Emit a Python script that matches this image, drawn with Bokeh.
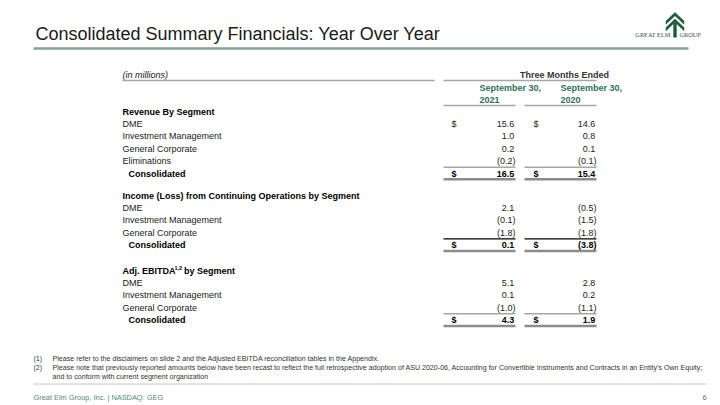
from bokeh.plotting import figure
from bokeh.models import Range1d, ColumnDataSource
from bokeh.core.properties import value
from bokeh.embed import file_html
from bokeh.resources import INLINE

# ---------------- data ----------------
title_text = "Consolidated Summary Financials: Year Over Year"
unit_label = "(in millions)"
period_header = "Three Months Ended"
period_dates = ["September 30,", "September 30,"]
period_years = ["2021", "2020"]

section_titles = ["Revenue By Segment",
                  "Income (Loss) from Continuing Operations by Segment",
                  "Adj. EBITDA"]
rev_segments = ["DME", "Investment Management", "General Corporate", "Eliminations"]
rev_2021 = [15.6, 1.0, 0.2, -0.2]
rev_2020 = [14.6, 0.8, 0.1, -0.1]
rev_total = [16.5, 15.4]

inc_segments = ["DME", "Investment Management", "General Corporate"]
inc_2021 = [2.1, -0.1, -1.8]
inc_2020 = [-0.5, -1.5, -1.8]
inc_total = [0.1, -3.8]

ebitda_segments = ["DME", "Investment Management", "General Corporate"]
ebitda_2021 = [5.1, 0.1, -1.0]
ebitda_2020 = [2.8, 0.2, -1.1]
ebitda_total = [4.3, 1.9]

total_label = "Consolidated"
footnotes = ["Please refer to the disclaimers on slide 2 and the Adjusted EBITDA reconciliation tables in the Appendix.",
             "Please note that previously reported amounts below have been recast to reflect the full retrospective adoption of ASU 2020-06, Accounting for Convertible Instruments and Contracts in an Entity\u2019s Own Equity;",
             "and to conform with current segment organization"]
footer_text = "Great Elm Group, Inc. | NASDAQ: GEG"
page_number = "6"

# ---------------- styles / layout ----------------
FONT = value("Liberation Sans")
SERIF = value("Liberation Serif")
GREEN = "#2E7059"
FOOT_GREEN = "#4F8A76"
GRAY_LINE = "#A6A6A6"
TXT = "#1a1a1a"

LABEL_X = 122
COL_L = [443, 524]
COL_R = [515, 596]
DOLLAR_X = [451, 533]
STEP = 12.4

p = figure(width=720, height=405, x_range=Range1d(0, 720), y_range=Range1d(405, 0),
           output_backend="svg", toolbar_location=None, min_border=0)
p.axis.visible = False
p.grid.visible = False
p.outline_line_color = None
p.background_fill_color = "white"
p.border_fill_color = "white"


def fmt(v):
    return f"{v:.1f}" if v >= 0 else f"({abs(v):.1f})"


def txt(x, y, t, size, color=TXT, align="left", style="normal", font=FONT, baseline="middle"):
    src = ColumnDataSource(dict(x=x, y=y, t=t))
    p.text("x", "y", "t", source=src, text_font=font, text_font_size=value(size),
           text_color=color, text_align=align, text_baseline=baseline, text_font_style=style)


def hline(x0, x1, y, color, w):
    src = ColumnDataSource(dict(x0=x0, x1=x1, y=y))
    p.segment("x0", "y", "x1", "y", source=src, line_color=color, line_width=w)


# title
txt([35], [33], [title_text], "18px")
hline([33], [688], [48], "#86A09A", 2.5)

# logo
cx = 674.5
xs, ys = [], []
for top in [12, 18.5]:
    w, h, t = 9, 8.5, 3.2
    xs.append([cx, cx + w, cx + w, cx, cx - w, cx - w])
    ys.append([top, top + h, top + h + t, top + t, top + h + t, top + h])
p.patches(xs, ys, fill_color="#1E5B3E", line_color="#1E5B3E", line_width=0.5)
p.quad(left=[672.8], right=[676.2], top=[22], bottom=[37], fill_color="#1E5B3E", line_color=None)
txt([670], [33.5], ["GREAT ELM"], "6.3px", color="#4a4a4a", align="right", font=SERIF)
txt([679], [33.5], ["GROUP"], "6.3px", color="#4a4a4a", align="left", font=SERIF)

# header
txt([LABEL_X], [74], [unit_label], "9px", style="italic")
hline([LABEL_X, COL_L[0]], [434, COL_R[1]], [80, 80], GRAY_LINE, 1.5)
txt([(COL_L[0] + COL_R[1]) / 2], [74], [period_header], "9px", color="#333333", style="bold")
cols_c = [(COL_L[i] + COL_R[i]) / 2 for i in range(2)]
txt(cols_c, [87, 87], period_dates, "9px", color=GREEN, style="bold")
txt(cols_c, [99.5, 99.5], period_years, "9px", color=GREEN, style="bold")
hline(COL_L, COL_R, [105, 105], GRAY_LINE, 1.5)

sections = [
    (section_titles[0], rev_segments, rev_2021, rev_2020, rev_total, 111, True, GRAY_LINE),
    (section_titles[1], inc_segments, inc_2021, inc_2020, inc_total, 195, False, "#000000"),
    (section_titles[2], ebitda_segments, ebitda_2021, ebitda_2020, ebitda_total, 270, False, GRAY_LINE),
]

for idx, (title, segs, v1, v2, tot, y0, dollar_first, above_color) in enumerate(sections):
    if idx == 2:
        # Adj. EBITDA with superscript
        txt([LABEL_X], [y0], [title], "9px", color="#000000", style="bold")
        txt([LABEL_X + 52], [y0 - 2.5], ["1,2"], "5.5px", color="#000000", style="bold")
        txt([LABEL_X + 61.5], [y0], ["by Segment"], "9px", color="#000000", style="bold")
    else:
        txt([LABEL_X], [y0], [title], "9px", color="#000000", style="bold")
    ys_rows = [y0 + STEP * (i + 1) for i in range(len(segs))]
    txt([LABEL_X] * len(segs), ys_rows, segs, "9px")
    for c, vals in enumerate([v1, v2]):
        xr = [COL_R[c] - (0 if v < 0 else 1.2) for v in vals]
        txt(xr, ys_rows, [fmt(v) for v in vals], "9px", color="#222222", align="right")
    if dollar_first:
        txt(DOLLAR_X, [ys_rows[0]] * 2, ["$", "$"], "9px", color="#222222")
    cy = y0 + STEP * (len(segs) + 1)
    txt([LABEL_X + 6], [cy], [total_label], "9px", color="#000000", style="bold")
    txt(DOLLAR_X, [cy, cy], ["$", "$"], "9px", color="#000000", style="bold")
    xr = [COL_R[c] - (0 if tot[c] < 0 else 1.2) for c in range(2)]
    txt(xr, [cy, cy], [fmt(v) for v in tot], "9px", color="#000000", align="right", style="bold")
    hline(COL_L, COL_R, [cy - 6.3] * 2, above_color, 1.5 if above_color == GRAY_LINE else 1.2)
    hline(COL_L, COL_R, [cy + 5.8] * 2, "#8C8C8C", 2.5)

# footnotes
txt([33, 33], [358, 367], ["(1)", "(2)"], "7.1px", color="#333333")
txt([52, 52, 52], [358, 367, 376], footnotes, "7.1px", color="#333333")
hline([33], [706], [383.5], "#C8C8C8", 1)

# footer
txt([33], [396.5], [footer_text], "7.4px", color=FOOT_GREEN)
txt([706], [396.5], [page_number], "7.4px", color="#666666", align="right")

open("out.html", "w").write(file_html(p, INLINE))
